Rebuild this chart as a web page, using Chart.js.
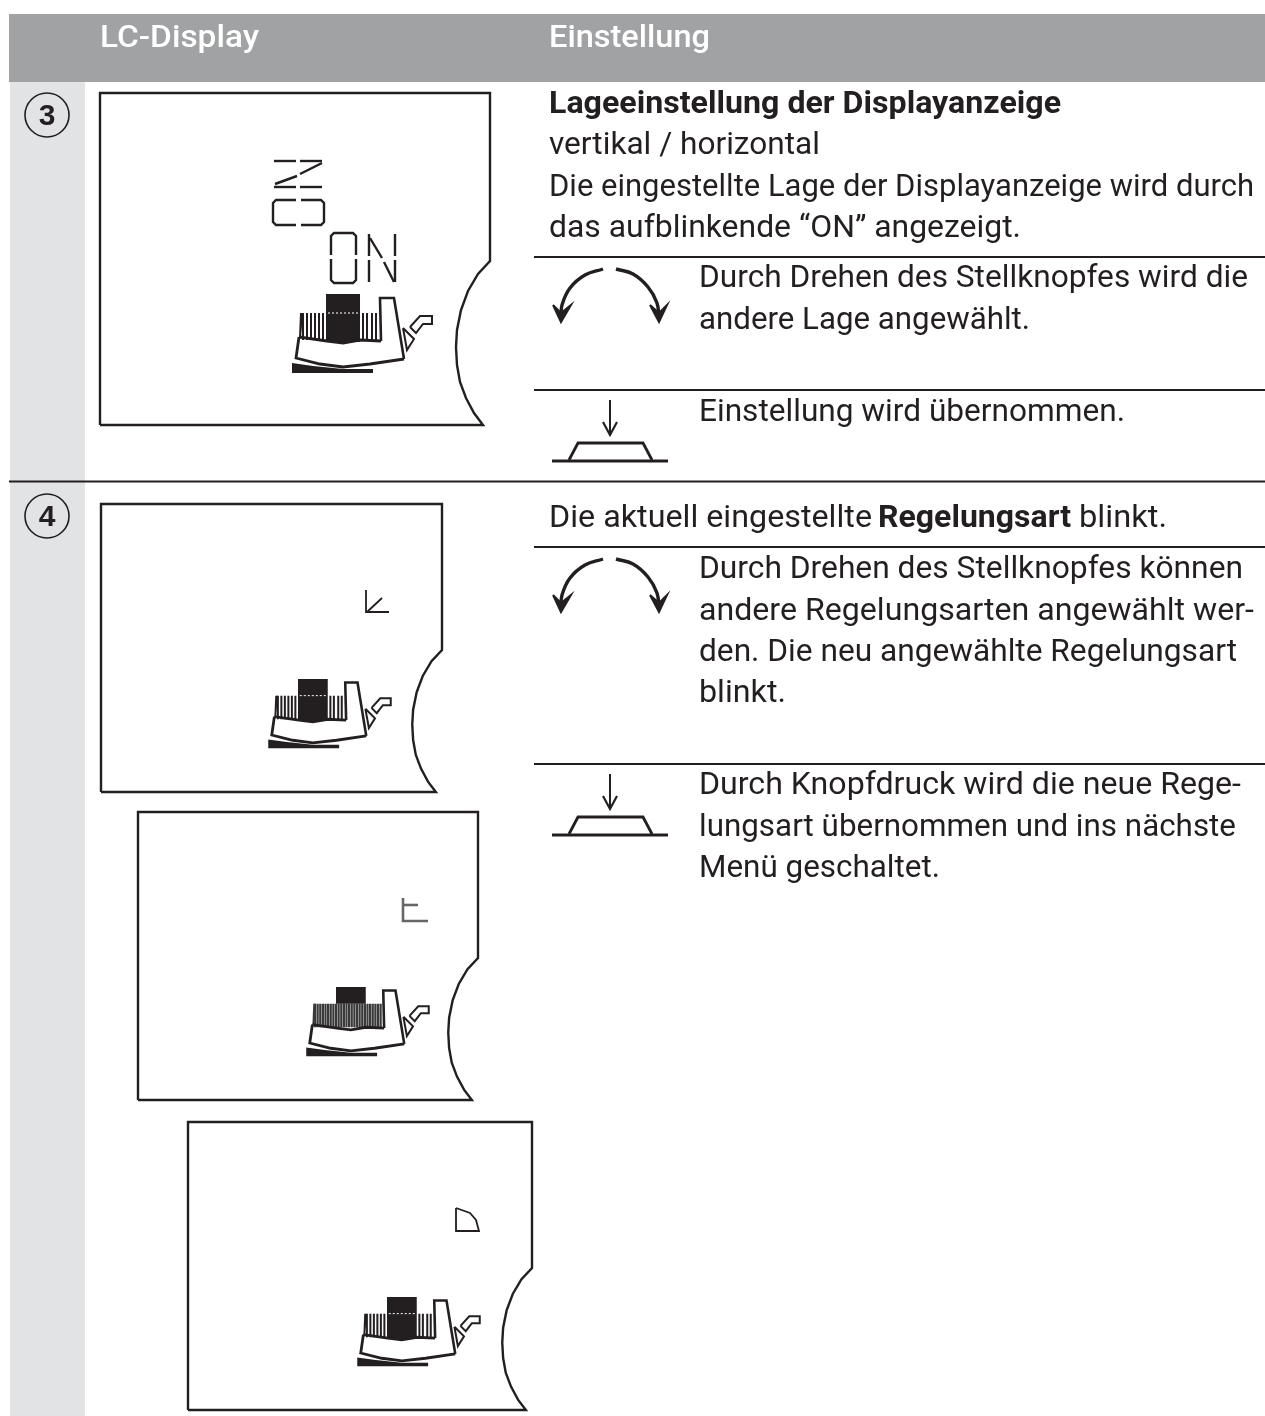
<!DOCTYPE html>
<html lang="de"><head><meta charset="utf-8"><title>LC-Display</title>
<style>html,body{margin:0;padding:0;background:#fff}canvas{display:block}</style>
<script src="https://cdn.jsdelivr.net/npm/chart.js@4"></script></head>
<body><canvas id="c" width="1265" height="1416"></canvas>
<script>
// ---- text content
const headerLabels = ["LC-Display","Einstellung"];
const stepLabels = ["3","4"];
const bodyLines = [
 "Lageeinstellung der Displayanzeige","vertikal / horizontal",
 "Die eingestellte Lage der Displayanzeige wird durch","das aufblinkende “ON” angezeigt.",
 "Durch Drehen des Stellknopfes wird die","andere Lage angewählt.","Einstellung wird übernommen.",
 "Die aktuell eingestellte","Regelungsart","blinkt.",
 "Durch Drehen des Stellknopfes können","andere Regelungsarten angewählt wer-",
 "den. Die neu angewählte Regelungsart","blinkt.",
 "Durch Knopfdruck wird die neue Rege-","lungsart übernommen und ins nächste","Menü geschaltet."];
const boldLines = [0,8];
const lineX0 = [549,549,549,549,699,699,699,549,878,1079,699,699,699,699,699,699,699];
const lineX1 = [1061,820,1254,1021,1248,1030,1125,872,1071,1167,1243,1254,1237,786,1241,1236,940];
const lineBase = [113,154,196,237,287,329,421,527,527,527,578,620,661,702,794,836,877];
const headerX0 = [100,549], headerX1 = [259,710], headerBase = [47,47];

// ---- page geometry values, in chart units
const ruleYs = [257,390,547,764];
const stepCircles = [[47,115],[47,516]];
const panelBoxes = [[100,93,490,261,425,1],[101,504,442,650,792,.875],[138,812,478,958,1100,.875],[188,1122,532,1268,1410,.875]];
const notchDx = [0,-12,-22,-29,-33,-34,-33,-30,-24,-16,-7];
const notchDy = [0,13,30,49,69,86,104,121,137,152,164];
const iconOrigins = [[326,294,1,0],[298,679,.875,0],[336,987,.875,1],[387,1297,.875,0]];
const blockX = [0,34], blockY = [0,48];
const bodyX = [-27,-30,-6,17,44,78];
const bodyY = [43,64,70,73,70,65];
const towerX = [55,54,68,78], towerY = [47,4,4,65];
const combEdgeX = [-27,1,17,34,55], combEdgeY = [43,47,49,46,47];
const wedgeX = [-34,-34,47,47,17,-13], wedgeY = [69,79,79,75,75,72];
const triX = [77,88,81,77], triY = [34,45,56,34];
const armX = [84,94,106,106,97,90,84], armY = [33,22,22,30,30,39,33];
const stripesLeft = [-23,-19,-15,-11,-7,-3], stripesRight = [37,41,46,50];
const stripesDense = [-24,-21,-18,-15,-12,-9,-6,-3,0,3,6,9,12,15,18,21,24,27,30,33,36,39,42,45,48,51];
const knobLeftX = [603,585,570,562,561], knobLeftY = [269,275,288,305,318];
const knobRightX = [616,633,648,657,659], knobRightY = [269,274,287,303,318];
const headLeftX = [553,561,571,561], headRightX = [650,659,667,659], headY = [305,322,305,313];
const knobOffsets = [0,290];
const pressArrowX = [610,610], pressArrowY = [400,434];
const pressHeadX = [603,610,617], pressHeadY = [422,435,422];
const pressTrapX = [569,578,643,652], pressTrapY = [460,443,443,460];
const pressBaseX = [552,668], pressBaseY = [461,461];
const pressOffsets = [0,374];

const DK="#231f20";
const ds=[];
const pts=(xs,ys,ox=0,oy=0,s=1)=>xs.map((x,i)=>({x:ox+x*s,y:oy+ys[i]*s}));
function line(data,w=2,color=DK,extra={}){ds.push(Object.assign({data,showLine:true,borderColor:color,borderWidth:w,pointRadius:0,fill:false,tension:0,borderJoinStyle:'miter',clip:false},extra));}
function poly(data,color=DK,stroke=0){ds.push({data:data.concat([data[0]]),showLine:true,borderColor:color,borderWidth:stroke,backgroundColor:color,pointRadius:0,fill:'shape',tension:0,clip:false});}

// backgrounds
poly(pts([9,1265,1265,9],[14,14,82,82]),"#a0a2a4");
poly(pts([10,85,85,10],[82,82,1416,1416]),"#e2e3e5");
line(pts([9,1265],[481.5,481.5]),2);
ruleYs.forEach(y=>line(pts([534,1265],[y,y]),2));

// step circles
stepCircles.forEach(c=>ds.push({data:[{x:c[0],y:c[1]}],showLine:false,pointRadius:22,pointBorderWidth:1.6,pointBorderColor:DK,pointBackgroundColor:'rgba(0,0,0,0)',pointStyle:'circle',clip:false}));

// panels
panelBoxes.forEach(p=>{
  const [l,t,r,b0,b,s]=p;
  const notchS=(b-b0)/164;
  const out=[{x:r,y:b0}];
  notchDx.forEach((dx,i)=>out.push({x:r+dx*(i?s:1),y:b0+notchDy[i]*notchS}));
  line([{x:l,y:b},{x:l,y:t},{x:r,y:t}].concat(out).concat([{x:l,y:b}]),2.4,DK,{tension:0});
});

// iron icons
function icon(ox,oy,s,dense){
  const col=dense?"#3a3a3a":DK;
  const stripes=dense?stripesDense:stripesLeft.concat(stripesRight);
  const top=19,bot=46;
  const segs=[];
  stripes.forEach(x=>{segs.push({x:ox+x*s,y:oy+top*s},{x:ox+x*s,y:oy+bot*s},{x:ox+x*s,y:NaN});});
  line(segs,dense?2.2:2,col);
  poly(pts(blockX.concat([34,0]),[0,0,dense?19:48,dense?19:48],ox,oy,s),DK);
  if(!dense) line(pts([2,32],[19,19],ox,oy,s),1,"#ffffff",{borderDash:[2,2]});
  poly(pts([-26,-23,-25,-27],[19,19,44,44],ox,oy,s),col);
  line(pts(combEdgeX,combEdgeY,ox,oy,s),2.8);
  line(pts(bodyX,bodyY,ox,oy,s),2.8);
  line(pts(towerX,towerY,ox,oy,s),2.6);
  poly(pts(wedgeX,wedgeY,ox,oy,s),DK);
  line(pts(triX,triY,ox,oy,s),2);
  line(pts(armX,armY,ox,oy,s),2);
}
iconOrigins.forEach(o=>icon(o[0],o[1],o[2],o[3]));

// LCD glyphs
const lcdSegments = [
 [[274,296],[161,161]],[[300,322],[161,161]],[[274,296],[187,187]],[[300,322],[187,187]],
 [[275,297],[184,176]],[[300,322],[174,163]],
 [[296,276,273,273,276,296],[200,200,203,222,225,225]],[[301,321,324,324,321,301],[200,200,203,222,225,225]],
 [[331,331,334,353,356,356],[255,236,233,233,236,255]],[[331,331,334,353,356,356],[259,280,283,283,280,259]],
 [[369,369],[234,256]],[[369,369],[260,282]],[[395,395],[234,256]],[[395,395],[260,282]],
 [[370,382],[238,258]],[[384,394],[262,282]]];
lcdSegments.forEach(s=>line(pts(s[0],s[1]),2.4));
const modeA=[[[366,366,389],[590,612,612]],[[367,382],[612,598]]];
const modeB=[[[403,403,428],[898,921,921]],[[403,418],[905,905]]];
const modeC=[[[456,456,479,476,470,456],[1208,1231,1231,1220,1213,1208]]];
modeA.forEach(s=>line(pts(s[0],s[1]),1.8));
modeB.forEach(s=>line(pts(s[0],s[1]),2.6,"#666"));
modeC.forEach(s=>line(pts(s[0],s[1]),1.8));

// knob and press symbols
knobOffsets.forEach(o=>{
  line(pts(knobLeftX,knobLeftY,0,o),3.4,DK,{tension:.4});
  line(pts(knobRightX,knobRightY,0,o),3.4,DK,{tension:.4});
  poly(pts(headLeftX,headY,0,o),DK,2);
  poly(pts(headRightX,headY,0,o),DK,2);
});
pressOffsets.forEach(o=>{
  line(pts(pressArrowX,pressArrowY,0,o),2);
  line(pts(pressHeadX,pressHeadY,0,o),2.2);
  line(pts(pressTrapX,pressTrapY,0,o),2.8);
  line(pts(pressBaseX,pressBaseY,0,o),3);
});

const FONT='Roboto, "Open Sans", sans-serif';
function fit(ctx,t,x0,x1,y){ctx.save();ctx.translate(x0,y);const w=ctx.measureText(t).width;ctx.scale((x1-x0)/w,1);ctx.fillText(t,0,0);ctx.restore();}
const textPlugin={id:'pageText',afterDatasetsDraw(chart){
  const ctx=chart.ctx;ctx.save();ctx.textBaseline='alphabetic';ctx.textAlign='left';
  ctx.fillStyle="#ffffff";ctx.font='500 32px '+FONT;
  headerLabels.forEach((t,i)=>fit(ctx,t,headerX0[i],headerX1[i],headerBase[i]));
  ctx.fillStyle=DK;
  bodyLines.forEach((t,i)=>{ctx.font=(boldLines.includes(i)?'700 ':'400 ')+'31px '+FONT;fit(ctx,t,lineX0[i],lineX1[i],lineBase[i]);});
  ctx.font='700 30px "Liberation Sans"';ctx.textAlign='center';
  stepLabels.forEach((t,i)=>ctx.fillText(t,stepCircles[i][0],stepCircles[i][1]+10));
  ctx.restore();
}};

new Chart(document.getElementById('c'),{
  type:'scatter',
  data:{datasets:ds.slice().reverse()},
  options:{responsive:false,animation:false,events:[],devicePixelRatio:1,
    layout:{padding:0,autoPadding:false},
    plugins:{legend:{display:false},tooltip:{enabled:false},title:{display:false}},
    scales:{x:{type:'linear',min:0,max:1265,display:false},y:{type:'linear',min:0,max:1416,reverse:true,display:false}}},
  plugins:[textPlugin]
});
</script></body></html>
